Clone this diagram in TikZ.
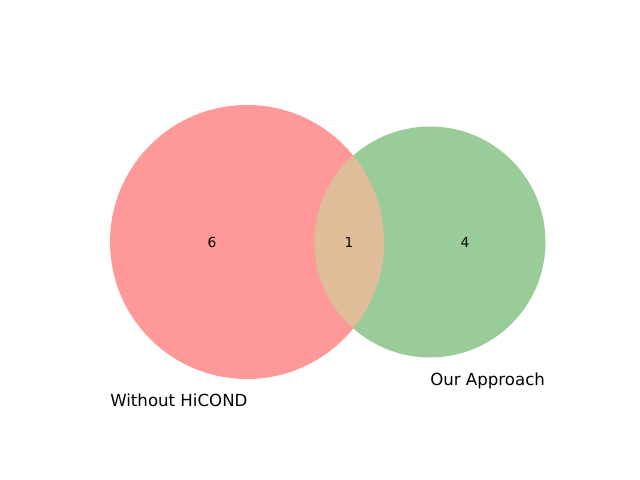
\documentclass[tikz,border=0pt]{standalone}
\usepackage{fontspec}
\setmainfont{DejaVu Sans}
\definecolor{lred}{HTML}{FF9999}
\definecolor{lgreen}{HTML}{99CC99}
\definecolor{lmix}{HTML}{E0BD99}
\begin{document}
\begin{tikzpicture}[x=0.01in,y=-0.01in,
  num/.style={font=\fontsize{10}{12}\selectfont,inner sep=0pt},
  setlabel/.style={font=\fontsize{12}{14}\selectfont,inner sep=0pt,anchor=base west}]
\useasboundingbox (0,0) rectangle (640,480);
\fill[lred] (247,242) circle[radius=137];
\fill[lgreen] (430,242) circle[radius=115.5];
\begin{scope}
\clip (247,242) circle[radius=137];
\fill[lmix] (430,242) circle[radius=115.5];
\end{scope}
\node[num] (a) at (212,242) {6};
\node[num] (ab) at (349,242) {1};
\node[num] (b) at (465,242) {4};
\node[setlabel] (la) at (110,406.5) {Without HiCOND};
\node[setlabel] (lb) at (430,386) {Our Approach};
\end{tikzpicture}
\end{document}
